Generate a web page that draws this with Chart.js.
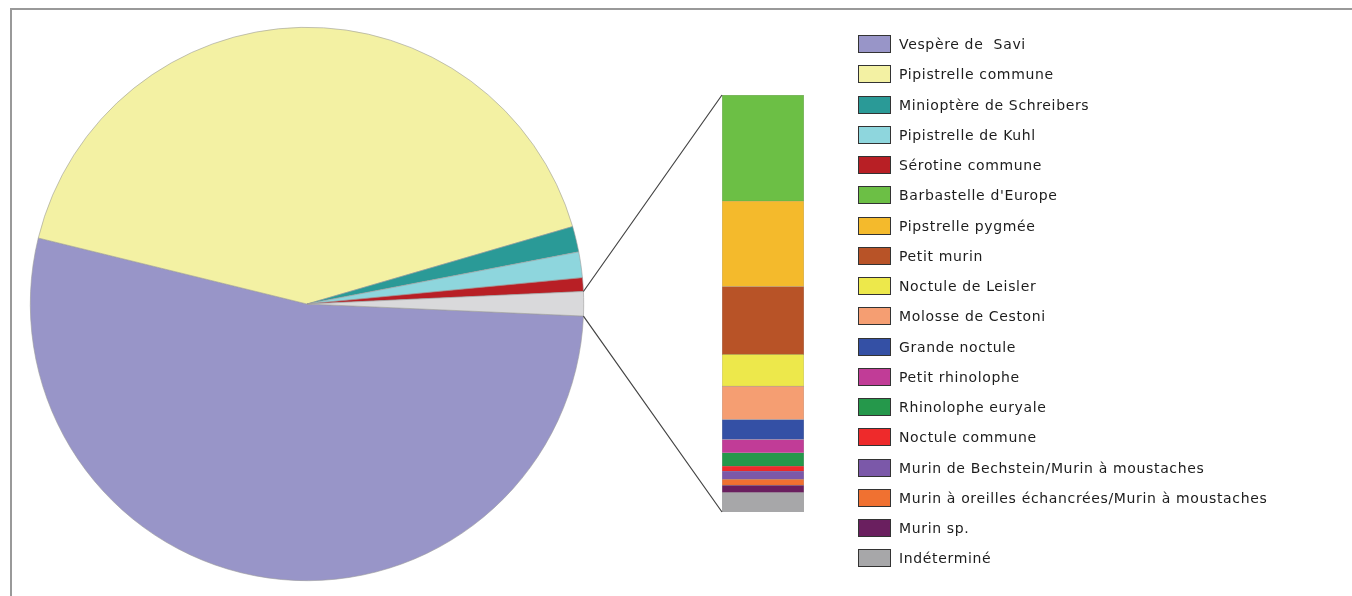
<!DOCTYPE html>
<html>
<head>
<meta charset="utf-8">
<script src="https://cdn.jsdelivr.net/npm/chart.js@4/dist/chart.umd.min.js"></script>
<style>
  html, body { margin: 0; padding: 0; background: #fff; }
  #wrap { position: relative; width: 1352px; height: 596px; overflow: hidden; }
  #frame { position: absolute; left: 10px; top: 8px; width: 1400px; height: 700px;
           border-left: 2px solid #999; border-top: 2px solid #999; }
  canvas { position: absolute; left: 0; top: 0; }
  #legend { position: absolute; left: 858px; top: 0; font-family: "DejaVu Sans", sans-serif;
            font-size: 14px; letter-spacing: 0.65px; color: #1c1c1c; }
  .row { position: absolute; left: 0; height: 18px; white-space: pre; display: flex; align-items: center; }
  .sw { width: 31px; height: 16px; border: 1px solid #333; margin-right: 8px; flex: none; }
</style>
</head>
<body>
<div id="wrap">
  <div id="frame"></div>
  <canvas id="pie" width="1352" height="596"></canvas>
  <canvas id="bar" width="1352" height="596"></canvas>
  <div id="legend"></div>
</div>
<script>
// Main pie: share of contacts (%) per species; the last slice gathers the small ones.
const pieLabels = ["Vespère de  Savi", "Pipistrelle commune", "Minioptère de Schreibers",
  "Pipistrelle de Kuhl", "Sérotine commune"];
const pieValues = [53.2, 41.7, 1.5, 1.5, 0.8];
const pieColors = ["#9895c8", "#f3f1a3", "#2a9a97", "#8ed6dd", "#b81f25"];
const otherColor = "#d9d9db";

// Break-out bar: the small species (%) stacked top to bottom.
const barLabels = ["Barbastelle d'Europe", "Pipstrelle pygmée", "Petit murin", "Noctule de Leisler",
  "Molosse de Cestoni", "Grande noctule", "Petit rhinolophe", "Rhinolophe euryale", "Noctule commune",
  "Murin de Bechstein/Murin à moustaches", "Murin à oreilles échancrées/Murin à moustaches",
  "Murin sp.", "Indéterminé"];
const barValues = [0.36, 0.29, 0.23, 0.108, 0.113, 0.068, 0.045, 0.045, 0.017, 0.028, 0.02, 0.025, 0.066];
const barColors = ["#6cbf45", "#f4ba2c", "#b85327", "#ede84b", "#f59e72", "#3450a5", "#c13c97",
  "#25984b", "#ee2a2b", "#7b58a9", "#f07131", "#6a1f5f", "#a7a7a9"];

const otherTotal = barValues.reduce((a, b) => a + b, 0);

// Legend (HTML, one row per species, pie first then bar).
const legend = document.getElementById("legend");
pieLabels.concat(barLabels).forEach((label, i) => {
  const color = i < pieColors.length ? pieColors[i] : barColors[i - pieColors.length];
  const row = document.createElement("div");
  row.className = "row";
  row.style.top = (35 + i * 30.25) + "px";
  row.innerHTML = `<span class="sw" style="background:${color}"></span><span>${label}</span>`;
  legend.appendChild(row);
});

const pieChart = new Chart(document.getElementById("pie"), {
  type: "pie",
  data: {
    labels: pieLabels.concat(["Autres"]),
    datasets: [{
      data: pieValues.concat([otherTotal]),
      backgroundColor: pieColors.concat([otherColor]),
      borderColor: "#9c9c9c",
      borderWidth: 0.6,
    }],
  },
  options: {
    responsive: false,
    animation: false,
    rotation: 92.5, // Vespère starts just below 3 o'clock
    layout: { padding: { left: 30, right: 768, top: 27, bottom: 15 } },
    plugins: { legend: { display: false }, tooltip: { enabled: false } },
  },
});

// Lines from the "other" slice's rim to the bar's corners.
const connectors = {
  id: "connectors",
  afterDraw(chart) {
    const arc = pieChart.getDatasetMeta(0).data[pieValues.length];
    const { x, y, outerRadius, startAngle, endAngle } = arc.getProps(["x", "y", "outerRadius", "startAngle", "endAngle"], true);
    const area = chart.chartArea;
    const ctx = chart.ctx;
    ctx.save();
    ctx.strokeStyle = "#444";
    ctx.lineWidth = 1.2;
    ctx.beginPath();
    ctx.moveTo(x + outerRadius * Math.cos(startAngle), y + outerRadius * Math.sin(startAngle));
    ctx.lineTo(area.left, area.top);
    ctx.moveTo(x + outerRadius * Math.cos(endAngle), y + outerRadius * Math.sin(endAngle));
    ctx.lineTo(area.left, area.bottom);
    ctx.stroke();
    ctx.restore();
  },
};

// Stacked from the bottom, so build datasets in reverse legend order.
const barDatasets = barLabels.map((label, i) => ({
  label,
  data: [barValues[i]],
  backgroundColor: barColors[i],
  borderColor: "rgba(60,60,60,0.45)",
  borderWidth: 0.6,
  barPercentage: 1,
  categoryPercentage: 1,
})).reverse();

new Chart(document.getElementById("bar"), {
  type: "bar",
  data: { labels: [""], datasets: barDatasets },
  options: {
    responsive: false,
    animation: false,
    layout: { padding: { left: 722, right: 548, top: 95, bottom: 84 } },
    scales: {
      x: { stacked: true, display: false },
      y: { stacked: true, display: false, min: 0, max: otherTotal },
    },
    plugins: { legend: { display: false }, tooltip: { enabled: false } },
  },
  plugins: [connectors],
});
</script>
</body>
</html>
